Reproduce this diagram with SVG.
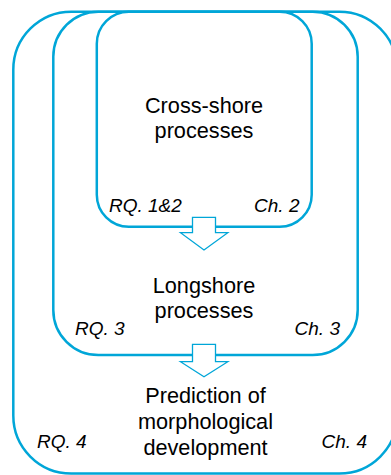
<svg xmlns="http://www.w3.org/2000/svg" width="391" height="475" viewBox="0 0 391 475">
<style>
.box{fill:none;stroke:#00A6D8;stroke-width:2.5}
.arr{fill:#fff;stroke:#00A6D8;stroke-width:1.3;stroke-linejoin:miter}
.t{font-family:"Liberation Sans",Arial,sans-serif;font-size:21.7px;fill:#000;text-anchor:middle}
.l{font-family:"Liberation Sans",Arial,sans-serif;font-size:19px;font-style:italic;fill:#000}
</style>
<rect width="391" height="475" fill="#fff"/>
<g id="outer">
<rect class="box" x="13.3" y="11.7" width="384" height="461.8" rx="58" ry="58"/>
<text class="t" x="205.5" y="403.3">Prediction of</text>
<text class="t" x="205.5" y="429.3">morphological</text>
<text class="t" x="205.5" y="454.5">development</text>
<text class="l" x="37" y="448.3">RQ. 4</text>
<text class="l" x="367" y="448.3" text-anchor="end">Ch. 4</text>
</g>
<g id="middle">
<rect class="box" x="53.3" y="11.7" width="304.4" height="343.3" rx="45" ry="45"/>
<text class="t" x="204" y="293.3">Longshore</text>
<text class="t" x="204" y="318">processes</text>
<text class="l" x="75" y="335">RQ. 3</text>
<text class="l" x="340" y="335" text-anchor="end">Ch. 3</text>
</g>
<g id="inner">
<rect class="box" x="96.8" y="11.7" width="214.9" height="215" rx="32" ry="32"/>
<text class="t" x="204" y="113">Cross-shore</text>
<text class="t" x="204" y="138">processes</text>
<text class="l" x="109" y="211.7">RQ. 1&amp;2</text>
<text class="l" x="299.5" y="211.7" text-anchor="end">Ch. 2</text>
</g>
<g id="connectors">
<path class="arr" d="M192.5,217.3 H215.5 V232.7 H227.8 L204,250 L180.5,232.7 H192.5 Z"/>
<path class="arr" d="M192.5,344.3 H215.5 V361.7 H227.8 L204,376.7 L180.5,361.7 H192.5 Z"/>
</g>
</svg>
